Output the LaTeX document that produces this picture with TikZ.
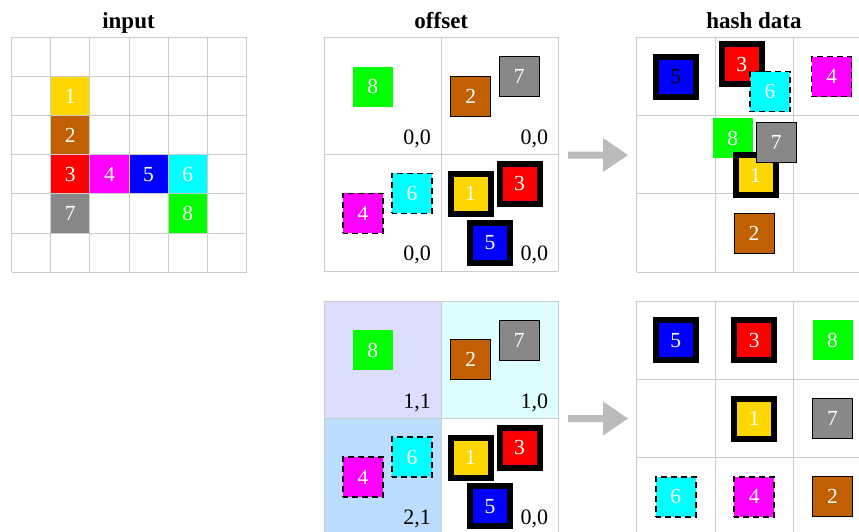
\documentclass[tikz,border=0pt]{standalone}
\usepackage{fontspec}
\setmainfont{Liberation Serif}
\definecolor{cyel}{RGB}{255,215,0}
\definecolor{cbrn}{RGB}{192,96,0}
\definecolor{cred}{RGB}{255,0,0}
\definecolor{cmag}{RGB}{255,0,255}
\definecolor{cblu}{RGB}{0,0,255}
\definecolor{ccya}{RGB}{0,255,255}
\definecolor{cgry}{RGB}{136,136,136}
\definecolor{cgrn}{RGB}{0,255,0}
\definecolor{gridc}{RGB}{204,204,204}
\definecolor{bgA}{RGB}{221,221,255}
\definecolor{bgB}{RGB}{221,255,255}
\definecolor{bgC}{RGB}{187,221,255}
\definecolor{arrc}{RGB}{187,187,187}
\tikzset{
  box/.style={minimum size=40pt, inner sep=0pt, text=white, font=\fontsize{21.5}{21.5}\selectfont},
  thinbox/.style={box, draw=black, line width=1pt},
  thickbox/.style={box, draw=black, line width=6pt},
  dashbox/.style={box, draw=black, line width=1.5pt, dash pattern=on 6pt off 4pt, dash phase=1pt},
  cellbox/.style={minimum size=39.17pt, inner sep=0pt, text=white, font=\fontsize{21.5}{21.5}\selectfont},
  gridline/.style={draw=gridc, line width=1pt},
  lbl/.style={anchor=base east, inner sep=0pt, font=\fontsize{22}{22}\selectfont},
  ttl/.style={anchor=base, inner sep=0pt, font=\bfseries\fontsize{23}{23}\selectfont},
  bigarrow/.style={fill=arrc, draw=none}
}
\begin{document}
\begin{tikzpicture}[x=1pt, y=-1pt]
\useasboundingbox (0,0) rectangle (859,531);
\clip (0,0) rectangle (859,531);

% titles
\node[ttl] (tin) at (128.5,28) {input};
\node[ttl] (toff) at (441.3,28) {offset};
\node[ttl] (thash) at (754,28) {hash data};

% ---------------- input grid
\def\c{39.17}
\node[cellbox, fill=cyel] (i1) at ({11.5+1.5*\c},{37.3+1.5*\c}) {1};
\node[cellbox, fill=cbrn] (i2) at ({11.5+1.5*\c},{37.3+2.5*\c}) {2};
\node[cellbox, fill=cred] (i3) at ({11.5+1.5*\c},{37.3+3.5*\c}) {3};
\node[cellbox, fill=cmag] (i4) at ({11.5+2.5*\c},{37.3+3.5*\c}) {4};
\node[cellbox, fill=cblu] (i5) at ({11.5+3.5*\c},{37.3+3.5*\c}) {5};
\node[cellbox, fill=ccya] (i6) at ({11.5+4.5*\c},{37.3+3.5*\c}) {6};
\node[cellbox, fill=cgry] (i7) at ({11.5+1.5*\c},{37.3+4.5*\c}) {7};
\node[cellbox, fill=cgrn] (i8) at ({11.5+4.5*\c},{37.3+4.5*\c}) {8};
\foreach \i in {0,...,6} {
  \draw[gridline] ({11.5+\i*\c},37.3) -- ({11.5+\i*\c},{37.3+6*\c});
  \draw[gridline] (11.5,{37.3+\i*\c}) -- ({11.5+6*\c},{37.3+\i*\c});
}

% ---------------- offset top
\foreach \i in {0,1,2} {
  \draw[gridline] ({324.3+\i*117},37.3) -- ({324.3+\i*117},271.3);
  \draw[gridline] (324.3,{37.3+\i*117}) -- (558.3,{37.3+\i*117});
}
\node[lbl] (oa1) at (431,144) {0,0};
\node[lbl] (oa2) at (548.3,144) {0,0};
\node[lbl] (oa3) at (431,260) {0,0};
\node[lbl] (oa4) at (548.3,260) {0,0};
\node[box, fill=cgrn] (o8) at (372.7,86.7) {8};
\node[thinbox, fill=cbrn] (o2) at (470.7,96) {2};
\node[thinbox, fill=cgry] (o7) at (519.3,76.3) {7};
\node[dashbox, fill=cmag] (o4) at (363,213.3) {4};
\node[dashbox, fill=ccya] (o6) at (412,193.3) {6};
\node[thickbox, fill=cyel] (o1) at (470.5,193.8) {1};
\node[thickbox, fill=cred] (o3) at (519.5,183.8) {3};
\node[thickbox, fill=cblu] (o5) at (490,242.5) {5};

% ---------------- offset bottom
\fill[bgA] (324.3,301) rectangle (441.3,418);
\fill[bgB] (441.3,301) rectangle (558.3,418);
\fill[bgC] (324.3,418) rectangle (441.3,535);
\foreach \i in {0,1,2} {
  \draw[gridline] ({324.3+\i*117},301) -- ({324.3+\i*117},535);
  \draw[gridline] (324.3,{301+\i*117}) -- (558.3,{301+\i*117});
}
\node[lbl] (ob1) at (431,408) {1,1};
\node[lbl] (ob2) at (548.3,408) {1,0};
\node[lbl] (ob3) at (431,524) {2,1};
\node[lbl] (ob4) at (548.3,524) {0,0};
\node[box, fill=cgrn] (p8) at (372.7,350.4) {8};
\node[thinbox, fill=cbrn] (p2) at (470.7,359.7) {2};
\node[thinbox, fill=cgry] (p7) at (519.3,340) {7};
\node[dashbox, fill=cmag] (p4) at (363,477) {4};
\node[dashbox, fill=ccya] (p6) at (412,457) {6};
\node[thickbox, fill=cyel] (p1) at (470.5,457.5) {1};
\node[thickbox, fill=cred] (p3) at (519.5,447.5) {3};
\node[thickbox, fill=cblu] (p5) at (490,506.2) {5};

% ---------------- arrows
\fill[bigarrow] (568,151.5) -- (603,151.5) -- (603,138) -- (628,155) -- (603,172) -- (603,158.5) -- (568,158.5) -- cycle;
\fill[bigarrow] (568,415) -- (603,415) -- (603,401.5) -- (628,418.5) -- (603,435.5) -- (603,422) -- (568,422) -- cycle;

% ---------------- hash top
\def\h{78.33}
\foreach \i in {0,...,3} {
  \draw[gridline] ({636.7+\i*\h},37.3) -- ({636.7+\i*\h},{37.3+3*\h});
  \draw[gridline] (636.7,{37.3+\i*\h}) -- ({636.7+3*\h},{37.3+\i*\h});
}
\node[thickbox, fill=cblu, text=black] (h5) at (675.8,76.5) {5};
\node[thickbox, fill=cred] (h3) at (741.7,64.2) {3};
\node[dashbox, fill=ccya] (h6) at (770,91.7) {6};
\node[dashbox, fill=cmag] (h4) at (831.7,76.7) {4};
\node[box, fill=cgrn] (h8) at (732.7,138) {8};
\node[thickbox, fill=cyel] (h1) at (755.5,175) {1};
\node[thinbox, fill=cgry] (h7) at (776.2,142) {7};
\node[thinbox, fill=cbrn] (h2) at (754,233) {2};

% ---------------- hash bottom
\foreach \i in {0,...,3} {
  \draw[gridline] ({636.7+\i*\h},301) -- ({636.7+\i*\h},{301+3*\h});
  \draw[gridline] (636.7,{301+\i*\h}) -- ({636.7+3*\h},{301+\i*\h});
}
\node[thickbox, fill=cblu] (k5) at ({636.7+0.5*\h},{301+0.5*\h}) {5};
\node[thickbox, fill=cred] (k3) at ({636.7+1.5*\h},{301+0.5*\h}) {3};
\node[box, fill=cgrn] (k8) at ({636.7+2.5*\h},{301+0.5*\h}) {8};
\node[thickbox, fill=cyel] (k1) at ({636.7+1.5*\h},{301+1.5*\h}) {1};
\node[thinbox, fill=cgry] (k7) at ({636.7+2.5*\h},{301+1.5*\h}) {7};
\node[dashbox, fill=ccya] (k6) at ({636.7+0.5*\h},{301+2.5*\h}) {6};
\node[dashbox, fill=cmag] (k4) at ({636.7+1.5*\h},{301+2.5*\h}) {4};
\node[thinbox, fill=cbrn] (k2) at ({636.7+2.5*\h},{301+2.5*\h}) {2};
\end{tikzpicture}
\end{document}
